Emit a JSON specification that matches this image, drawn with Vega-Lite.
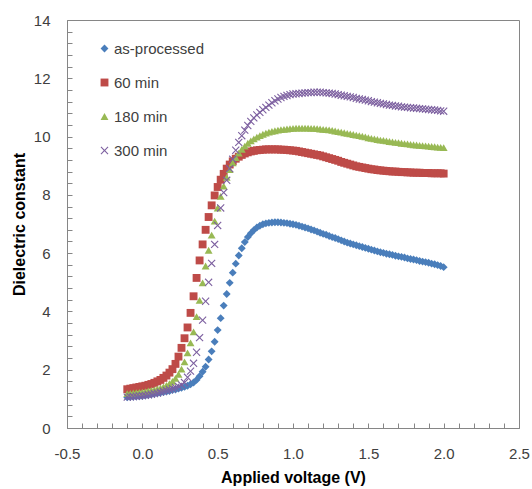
{
"$schema": "https://vega.github.io/schema/vega-lite/v6.json",
"width": 452, "height": 408,
"autosize": {"type": "none"},
"padding": {"left": 67, "top": 20, "right": 13, "bottom": 61},
"background": "white",
"config": {"view": {"stroke": "#868686", "strokeWidth": 1}, "font": "Liberation Sans"},
"data": {"values": [
{"v":-0.1,"a":1.05,"b":1.33,"c":1.18,"d":1.06},
{"v":-0.08,"a":1.06,"b":1.35,"c":1.19,"d":1.07},
{"v":-0.06,"a":1.07,"b":1.37,"c":1.2,"d":1.08},
{"v":-0.04,"a":1.08,"b":1.39,"c":1.21,"d":1.09},
{"v":-0.02,"a":1.09,"b":1.41,"c":1.22,"d":1.1},
{"v":0,"a":1.1,"b":1.43,"c":1.23,"d":1.11},
{"v":0.02,"a":1.11,"b":1.45,"c":1.25,"d":1.12},
{"v":0.04,"a":1.13,"b":1.48,"c":1.27,"d":1.14},
{"v":0.06,"a":1.15,"b":1.51,"c":1.29,"d":1.16},
{"v":0.08,"a":1.17,"b":1.55,"c":1.31,"d":1.18},
{"v":0.1,"a":1.19,"b":1.6,"c":1.34,"d":1.2},
{"v":0.12,"a":1.21,"b":1.65,"c":1.37,"d":1.23},
{"v":0.14,"a":1.23,"b":1.72,"c":1.41,"d":1.26},
{"v":0.16,"a":1.25,"b":1.8,"c":1.46,"d":1.29},
{"v":0.18,"a":1.27,"b":1.9,"c":1.52,"d":1.32},
{"v":0.2,"a":1.3,"b":2.02,"c":1.6,"d":1.35},
{"v":0.22,"a":1.32,"b":2.2,"c":1.7,"d":1.39},
{"v":0.24,"a":1.35,"b":2.45,"c":1.84,"d":1.43},
{"v":0.26,"a":1.38,"b":2.75,"c":2.02,"d":1.48},
{"v":0.28,"a":1.41,"b":3.08,"c":2.27,"d":1.56},
{"v":0.3,"a":1.45,"b":3.45,"c":2.58,"d":1.74},
{"v":0.32,"a":1.5,"b":3.95,"c":2.92,"d":1.95},
{"v":0.34,"a":1.56,"b":4.52,"c":3.3,"d":2.22},
{"v":0.36,"a":1.65,"b":5.15,"c":3.82,"d":2.6},
{"v":0.38,"a":1.78,"b":5.75,"c":4.38,"d":3.1},
{"v":0.4,"a":1.93,"b":6.3,"c":4.98,"d":3.7},
{"v":0.42,"a":2.1,"b":6.8,"c":5.56,"d":4.35},
{"v":0.44,"a":2.35,"b":7.24,"c":6.1,"d":5.0},
{"v":0.46,"a":2.63,"b":7.64,"c":6.62,"d":5.65},
{"v":0.48,"a":2.96,"b":7.98,"c":7.1,"d":6.3},
{"v":0.5,"a":3.36,"b":8.27,"c":7.55,"d":6.95},
{"v":0.52,"a":3.77,"b":8.52,"c":7.95,"d":7.55},
{"v":0.54,"a":4.2,"b":8.72,"c":8.3,"d":8.08},
{"v":0.56,"a":4.6,"b":8.9,"c":8.6,"d":8.5},
{"v":0.58,"a":4.98,"b":9.04,"c":8.87,"d":8.9},
{"v":0.6,"a":5.33,"b":9.15,"c":9.1,"d":9.22},
{"v":0.62,"a":5.64,"b":9.24,"c":9.28,"d":9.53},
{"v":0.64,"a":5.92,"b":9.31,"c":9.43,"d":9.8},
{"v":0.66,"a":6.17,"b":9.37,"c":9.56,"d":10.03},
{"v":0.68,"a":6.38,"b":9.42,"c":9.67,"d":10.22},
{"v":0.7,"a":6.55,"b":9.46,"c":9.77,"d":10.38},
{"v":0.72,"a":6.68,"b":9.49,"c":9.85,"d":10.52},
{"v":0.74,"a":6.79,"b":9.51,"c":9.92,"d":10.64},
{"v":0.76,"a":6.88,"b":9.53,"c":9.98,"d":10.74},
{"v":0.78,"a":6.94,"b":9.54,"c":10.03,"d":10.83},
{"v":0.8,"a":6.99,"b":9.55,"c":10.08,"d":10.92},
{"v":0.82,"a":7.02,"b":9.56,"c":10.12,"d":11.0},
{"v":0.84,"a":7.04,"b":9.56,"c":10.15,"d":11.08},
{"v":0.86,"a":7.05,"b":9.56,"c":10.18,"d":11.16},
{"v":0.88,"a":7.06,"b":9.56,"c":10.2,"d":11.23},
{"v":0.9,"a":7.06,"b":9.56,"c":10.22,"d":11.29},
{"v":0.92,"a":7.05,"b":9.55,"c":10.24,"d":11.34},
{"v":0.94,"a":7.04,"b":9.55,"c":10.25,"d":11.38},
{"v":0.96,"a":7.03,"b":9.54,"c":10.26,"d":11.41},
{"v":0.98,"a":7.01,"b":9.53,"c":10.27,"d":11.44},
{"v":1.0,"a":6.99,"b":9.52,"c":10.28,"d":11.46},
{"v":1.02,"a":6.97,"b":9.51,"c":10.29,"d":11.47},
{"v":1.04,"a":6.94,"b":9.49,"c":10.29,"d":11.48},
{"v":1.06,"a":6.91,"b":9.47,"c":10.29,"d":11.49},
{"v":1.08,"a":6.88,"b":9.45,"c":10.29,"d":11.5},
{"v":1.1,"a":6.85,"b":9.43,"c":10.29,"d":11.51},
{"v":1.12,"a":6.81,"b":9.41,"c":10.28,"d":11.51},
{"v":1.14,"a":6.78,"b":9.39,"c":10.28,"d":11.52},
{"v":1.16,"a":6.74,"b":9.37,"c":10.27,"d":11.52},
{"v":1.18,"a":6.7,"b":9.35,"c":10.26,"d":11.52},
{"v":1.2,"a":6.66,"b":9.32,"c":10.25,"d":11.51},
{"v":1.22,"a":6.63,"b":9.29,"c":10.24,"d":11.5},
{"v":1.24,"a":6.59,"b":9.26,"c":10.23,"d":11.49},
{"v":1.26,"a":6.55,"b":9.23,"c":10.21,"d":11.48},
{"v":1.28,"a":6.52,"b":9.2,"c":10.19,"d":11.46},
{"v":1.3,"a":6.48,"b":9.17,"c":10.17,"d":11.44},
{"v":1.32,"a":6.44,"b":9.13,"c":10.15,"d":11.42},
{"v":1.34,"a":6.4,"b":9.1,"c":10.13,"d":11.4},
{"v":1.36,"a":6.36,"b":9.07,"c":10.11,"d":11.38},
{"v":1.38,"a":6.33,"b":9.04,"c":10.09,"d":11.36},
{"v":1.4,"a":6.3,"b":9.01,"c":10.07,"d":11.34},
{"v":1.42,"a":6.27,"b":8.98,"c":10.05,"d":11.31},
{"v":1.44,"a":6.24,"b":8.96,"c":10.03,"d":11.29},
{"v":1.46,"a":6.21,"b":8.94,"c":10.01,"d":11.27},
{"v":1.48,"a":6.18,"b":8.92,"c":9.99,"d":11.25},
{"v":1.5,"a":6.15,"b":8.9,"c":9.96,"d":11.23},
{"v":1.52,"a":6.12,"b":8.88,"c":9.94,"d":11.2},
{"v":1.54,"a":6.09,"b":8.87,"c":9.92,"d":11.18},
{"v":1.56,"a":6.06,"b":8.85,"c":9.9,"d":11.16},
{"v":1.58,"a":6.03,"b":8.84,"c":9.88,"d":11.14},
{"v":1.6,"a":6.01,"b":8.83,"c":9.87,"d":11.12},
{"v":1.62,"a":5.98,"b":8.82,"c":9.85,"d":11.1},
{"v":1.64,"a":5.96,"b":8.81,"c":9.83,"d":11.08},
{"v":1.66,"a":5.94,"b":8.8,"c":9.82,"d":11.07},
{"v":1.68,"a":5.91,"b":8.8,"c":9.8,"d":11.05},
{"v":1.7,"a":5.89,"b":8.79,"c":9.79,"d":11.04},
{"v":1.72,"a":5.87,"b":8.78,"c":9.77,"d":11.02},
{"v":1.74,"a":5.85,"b":8.78,"c":9.76,"d":11.01},
{"v":1.76,"a":5.82,"b":8.77,"c":9.75,"d":11.0},
{"v":1.78,"a":5.8,"b":8.77,"c":9.73,"d":10.99},
{"v":1.8,"a":5.78,"b":8.76,"c":9.72,"d":10.98},
{"v":1.82,"a":5.76,"b":8.76,"c":9.71,"d":10.97},
{"v":1.84,"a":5.73,"b":8.76,"c":9.7,"d":10.96},
{"v":1.86,"a":5.71,"b":8.75,"c":9.69,"d":10.95},
{"v":1.88,"a":5.69,"b":8.75,"c":9.68,"d":10.94},
{"v":1.9,"a":5.67,"b":8.75,"c":9.67,"d":10.93},
{"v":1.92,"a":5.64,"b":8.74,"c":9.66,"d":10.92},
{"v":1.94,"a":5.62,"b":8.74,"c":9.65,"d":10.91},
{"v":1.96,"a":5.59,"b":8.74,"c":9.64,"d":10.9},
{"v":1.98,"a":5.56,"b":8.74,"c":9.63,"d":10.88},
{"v":2.0,"a":5.52,"b":8.73,"c":9.62,"d":10.87}
]},
"transform": [{"fold": ["a", "b", "c", "d"], "as": ["s", "y"]}],
"mark": {"type": "point", "filled": true, "opacity": 1, "size": 62, "strokeWidth": 0},
"encoding": {
  "x": {"field": "v", "type": "quantitative",
    "scale": {"domain": [-0.5, 2.5], "nice": false, "zero": false},
    "axis": {"title": "Applied voltage (V)",
      "values": [-0.5,-0.4,-0.3,-0.2,-0.1,0,0.1,0.2,0.3,0.4,0.5,0.6,0.7,0.8,0.9,1,1.1,1.2,1.3,1.4,1.5,1.6,1.7,1.8,1.9,2,2.1,2.2,2.3,2.4,2.5],
      "labelExpr": "abs(datum.value*2-round(datum.value*2))<0.001 ? replace(format(datum.value,'.1f'),'\u2212','-') : ''",
      "labelOverlap": false, "labelFlush": false, "grid": false,
      "tickSize": -5, "labelPadding": 23, "domainColor": "#868686", "tickColor": "#868686",
      "labelColor": "#404040", "labelFontSize": 15, "labelFont": "Liberation Sans",
      "titleFont": "Liberation Sans", "titleFontSize": 16, "titleFontWeight": "bold", "titleColor": "black", "titlePadding": 8}},
  "y": {"field": "y", "type": "quantitative",
    "scale": {"domain": [0, 14], "nice": false, "zero": true},
    "axis": {"title": "Dielectric constant",
      "values": [0,0.4,0.8,1.2,1.6,2,2.4,2.8,3.2,3.6,4,4.4,4.8,5.2,5.6,6,6.4,6.8,7.2,7.6,8,8.4,8.8,9.2,9.6,10,10.4,10.8,11.2,11.6,12,12.4,12.8,13.2,13.6,14],
      "labelExpr": "datum.value % 2 == 0 ? format(datum.value,'d') : ''",
      "labelOverlap": false, "labelFlush": false, "grid": false,
      "tickSize": -5, "labelPadding": 22, "domainColor": "#868686", "tickColor": "#868686",
      "labelColor": "#404040", "labelFontSize": 15, "labelFont": "Liberation Sans",
      "titleFont": "Liberation Sans", "titleFontSize": 16, "titleFontWeight": "bold", "titleColor": "black", "titlePadding": 6}},
  "color": {"field": "s", "type": "nominal",
    "scale": {"domain": ["a", "b", "c", "d"], "range": ["#4A7EBB", "#BE4B48", "#98B954", "#7D60A0"]},
    "legend": {"title": null, "orient": "none", "legendX": 30, "legendY": 21, "padding": 0,
      "labelFontSize": 15, "labelFont": "Liberation Sans", "labelColor": "#404040",
      "symbolSize": 62, "rowPadding": 18, "labelOffset": 2, "symbolStrokeWidth": 0,
      "labelExpr": "datum.label == 'a' ? 'as-processed' : datum.label == 'b' ? '60 min' : datum.label == 'c' ? '180 min' : '300 min'"}},
  "shape": {"field": "s", "type": "nominal",
    "scale": {"domain": ["a", "b", "c", "d"], "range": ["diamond", "square", "triangle-up", "M-1,-0.8L-0.8,-1L0,-0.2L0.8,-1L1,-0.8L0.2,0L1,0.8L0.8,1L0,0.2L-0.8,1L-1,0.8L-0.2,0Z"]}},
  "order": {"field": "s", "sort": "ascending"}
}
}
